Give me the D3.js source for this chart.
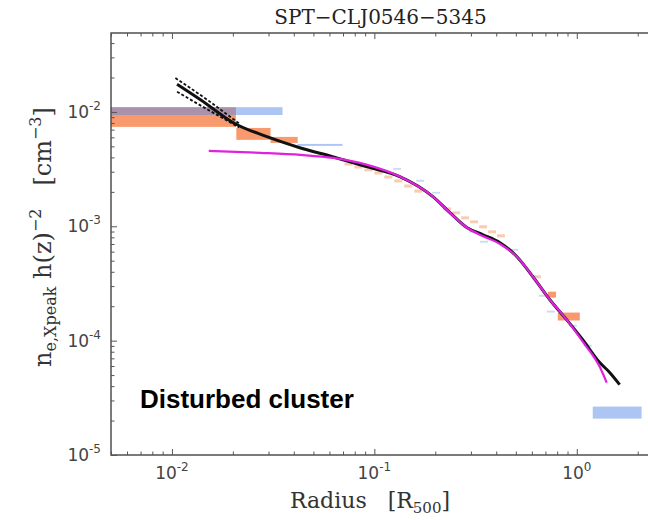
<!DOCTYPE html>
<html>
<head>
<meta charset="utf-8">
<script src="https://cdn.jsdelivr.net/npm/d3@7"></script>
<style>
  body { margin: 0; background: #fff; }
  svg { display: block; }
</style>
</head>
<body>
<div id="chart"></div>
<script>
// radius [R500] vs density
const blackProfile = [
  [0.0106, 0.0175], [0.0139, 0.01274], [0.0202, 0.00801], [0.0297, 0.00604],
  [0.0432, 0.00484], [0.0628, 0.00404], [0.0923, 0.00331], [0.1343, 0.00271],
  [0.1953, 0.00181], [0.2368, 0.00131], [0.2872, 0.000971], [0.3443, 0.000843],
  [0.4175, 0.000718], [0.5063, 0.000542], [0.6072, 0.000362], [0.7362, 0.000228],
  [0.8928, 0.000152], [1.070, 0.000102], [1.298, 6.43e-5], [1.45, 5.3e-5], [1.628, 4.13e-5]
];
const blackUpper = [[0.0104, 0.0198], [0.0150, 0.0127], [0.0215, 0.0079]];
const blackLower = [[0.0106, 0.0150], [0.0150, 0.0105], [0.0215, 0.0073]];

const magentaModel = [
  [0.0152, 0.00456], [0.0274, 0.00439], [0.0432, 0.00421], [0.0628, 0.00396],
  [0.0923, 0.00344], [0.1343, 0.00271], [0.1953, 0.00181], [0.2368, 0.00131],
  [0.2872, 0.000971], [0.3443, 0.00082], [0.4175, 0.00070], [0.5063, 0.000542],
  [0.6072, 0.000362], [0.7362, 0.000228], [0.8928, 0.000152], [1.070, 9.8e-5],
  [1.298, 5.9e-5], [1.405, 4.3e-5]
];

// bins: [r0, r1, nLow, nHigh]
const orangeBins = [
  [0.001, 0.0207, 0.0074, 0.0110],
  [0.0208, 0.0307, 0.0057, 0.00724],
  [0.0307, 0.0418, 0.00536, 0.00605],
  [0.72, 0.79, 0.000238, 0.000268],
  [0.806, 1.035, 0.000150, 0.000176]
];
const orangeSmall = [
  [0.0712, 0.0779, 0.00340, 0.00360],
  [0.0797, 0.0873, 0.00320, 0.00339],
  [0.0893, 0.0977, 0.00302, 0.00320],
  [0.100, 0.1095, 0.00284, 0.00301],
  [0.112, 0.1227, 0.00262, 0.00278],
  [0.1255, 0.1374, 0.00242, 0.00257],
  [0.1405, 0.1539, 0.00218, 0.00232],
  [0.1574, 0.1723, 0.00197, 0.00210],
  [0.2187, 0.2394, 0.001379, 0.001463],
  [0.2422, 0.2652, 0.001272, 0.001351],
  [0.2683, 0.2938, 0.00115, 0.001221],
  [0.2972, 0.3253, 0.001062, 0.001127],
  [0.3291, 0.3602, 0.00096, 0.00102],
  [0.3643, 0.3990, 0.000868, 0.000922],
  [0.4036, 0.4418, 0.000801, 0.000851],
  [0.6072, 0.6648, 0.000351, 0.000373]
];
const blueBins = [
  [0.001, 0.0352, 0.0094, 0.0110],
  [0.0418, 0.0696, 0.00505, 0.00525],
  [1.199, 2.09, 2.08e-5, 2.65e-5]
];
const blueSmall = [
  [0.1241, 0.1358, 0.00312, 0.00324],
  [0.1610, 0.1763, 0.00245, 0.00255],
  [0.1931, 0.2114, 0.00193, 0.00200],
  [0.2938, 0.3216, 0.000878, 0.000912],
  [0.3329, 0.3643, 0.000718, 0.000746],
  [0.4677, 0.5122, 0.000611, 0.000635],
  [0.6499, 0.7116, 0.000242, 0.000252],
  [0.7116, 0.7791, 0.000176, 0.000183],
  [0.9133, 1.0, 0.0001326, 0.0001378],
  [1.0826, 1.1855, 8.87e-5, 9.22e-5]
];

const xDomain = [0.005, 2.3];
const yDomain = [1e-5, 0.049];
const xMajor = [0.01, 0.1, 1];
const xExp = ["-2", "-1", "0"];
const yMajor = [1e-5, 1e-4, 1e-3, 1e-2];
const yExp = ["-5", "-4", "-3", "-2"];

const W = 648, H = 520;
const plot = { left: 111, top: 33, right: 650, bottom: 455 };

const svg = d3.select("#chart").append("svg")
  .attr("width", W)
  .attr("height", H);

const x = d3.scaleLog().domain(xDomain).range([plot.left, plot.right]);
const y = d3.scaleLog().domain(yDomain).range([plot.bottom, plot.top]);

svg.append("clipPath").attr("id", "clip")
  .append("rect")
  .attr("x", plot.left).attr("y", plot.top)
  .attr("width", plot.right - plot.left)
  .attr("height", plot.bottom - plot.top);

const g = svg.append("g").attr("clip-path", "url(#clip)");

function drawBins(data, cls, fill, opacity) {
  g.selectAll("rect." + cls).data(data).join("rect")
    .attr("class", cls)
    .attr("x", d => x(d[0]))
    .attr("width", d => x(d[1]) - x(d[0]))
    .attr("y", d => y(d[3]))
    .attr("height", d => y(d[2]) - y(d[3]))
    .attr("fill", fill)
    .attr("opacity", opacity);
}
drawBins(orangeBins, "orange", "#f78f5e", 0.9);
drawBins(orangeSmall, "orange-s", "#f7a070", 0.55);
drawBins(blueBins, "blue", "#5b8be6", 0.5);
drawBins(blueSmall, "blue-s", "#7fa3ea", 0.4);

const line = d3.line()
  .x(d => x(d[0]))
  .y(d => y(d[1]))
  .curve(d3.curveMonotoneX);

[blackUpper, blackLower].forEach(env => {
  g.append("path")
    .attr("d", line(env))
    .attr("fill", "none")
    .attr("stroke", "#111")
    .attr("stroke-width", 1.8)
    .attr("stroke-dasharray", "3,2");
});

g.append("path")
  .attr("d", line(blackProfile))
  .attr("fill", "none")
  .attr("stroke", "#111")
  .attr("stroke-width", 3);

g.append("path")
  .attr("d", line(magentaModel))
  .attr("fill", "none")
  .attr("stroke", "#e021e0")
  .attr("stroke-width", 2.2);

// frame
svg.append("rect")
  .attr("x", plot.left).attr("y", plot.top)
  .attr("width", plot.right - plot.left)
  .attr("height", plot.bottom - plot.top)
  .attr("fill", "none")
  .attr("stroke", "#444")
  .attr("stroke-width", 1.4);

// ticks, all pointing inward
const xMinor = x.ticks().filter(v => !xMajor.some(m => Math.abs(m - v) < 1e-9));
const yMinor = y.ticks().filter(v => !yMajor.some(m => Math.abs(m / v - 1) < 1e-6));

function tickAxis(axisFn, scale, vals, size, transform) {
  svg.append("g")
    .attr("transform", transform)
    .call(axisFn(scale).tickValues(vals).tickSize(size).tickFormat(""))
    .call(a => a.select(".domain").remove())
    .call(a => a.selectAll("line").attr("stroke", "#555").attr("stroke-width", 1));
}
tickAxis(d3.axisBottom, x, xMinor, -3.5, `translate(0,${plot.bottom})`);
tickAxis(d3.axisBottom, x, xMajor, -6, `translate(0,${plot.bottom})`);
tickAxis(d3.axisTop, x, xMinor, -3.5, `translate(0,${plot.top})`);
tickAxis(d3.axisTop, x, xMajor, -6, `translate(0,${plot.top})`);
tickAxis(d3.axisLeft, y, yMinor, -3.5, `translate(${plot.left},0)`);
tickAxis(d3.axisLeft, y, yMajor, -6, `translate(${plot.left},0)`);

// tick labels as 10^n
const tickFont = "'DejaVu Sans', sans-serif";
xMajor.forEach((v, i) => {
  const t = svg.append("text")
    .attr("x", x(v))
    .attr("y", 479)
    .attr("text-anchor", "middle")
    .attr("font-family", tickFont)
    .attr("fill", "#444");
  t.append("tspan").attr("font-size", 17).text("10");
  t.append("tspan").attr("font-size", 12).attr("dy", -8).text(xExp[i]);
});
yMajor.forEach((v, i) => {
  const t = svg.append("text")
    .attr("x", 101)
    .attr("y", y(v) + 6)
    .attr("text-anchor", "end")
    .attr("font-family", tickFont)
    .attr("fill", "#444");
  t.append("tspan").attr("font-size", 17).text("10");
  t.append("tspan").attr("font-size", 12).attr("dy", -8).text(yExp[i]);
});

const serif = "'DejaVu Serif', serif";

svg.append("text")
  .attr("x", (plot.left + plot.right) / 2)
  .attr("y", 24)
  .attr("text-anchor", "middle")
  .attr("font-family", serif)
  .attr("font-size", 20)
  .attr("fill", "#222")
  .text("SPT\u2212CLJ0546\u22125345");

const xl = svg.append("text")
  .attr("x", 370)
  .attr("y", 508)
  .attr("text-anchor", "middle")
  .attr("font-family", serif)
  .attr("font-size", 22)
  .attr("fill", "#333");
xl.append("tspan").text("Radius\u00a0\u00a0\u00a0[R");
xl.append("tspan").attr("font-size", 15).attr("dy", 5).text("500");
xl.append("tspan").attr("dy", -5).text("]");

const yl = svg.append("text")
  .attr("transform", "translate(51,237) rotate(-90)")
  .attr("text-anchor", "middle")
  .attr("font-family", serif)
  .attr("font-size", 24)
  .attr("fill", "#333");
yl.append("tspan").text("n");
yl.append("tspan").attr("font-size", 16).attr("dy", 5).text("e,Xpeak");
yl.append("tspan").attr("dy", -5).text(" h(z)");
yl.append("tspan").attr("font-size", 16).attr("dy", -10).text("\u22122");
yl.append("tspan").attr("dy", 10).text("\u00a0\u00a0\u00a0[cm");
yl.append("tspan").attr("font-size", 16).attr("dy", -10).text("\u22123");
yl.append("tspan").attr("dy", 10).text("]");

svg.append("text")
  .attr("x", 140)
  .attr("y", 408)
  .attr("font-family", "'Liberation Sans', Arial, sans-serif")
  .attr("font-weight", "bold")
  .attr("font-size", 26)
  .attr("fill", "#000")
  .text("Disturbed cluster");
</script>
</body>
</html>
